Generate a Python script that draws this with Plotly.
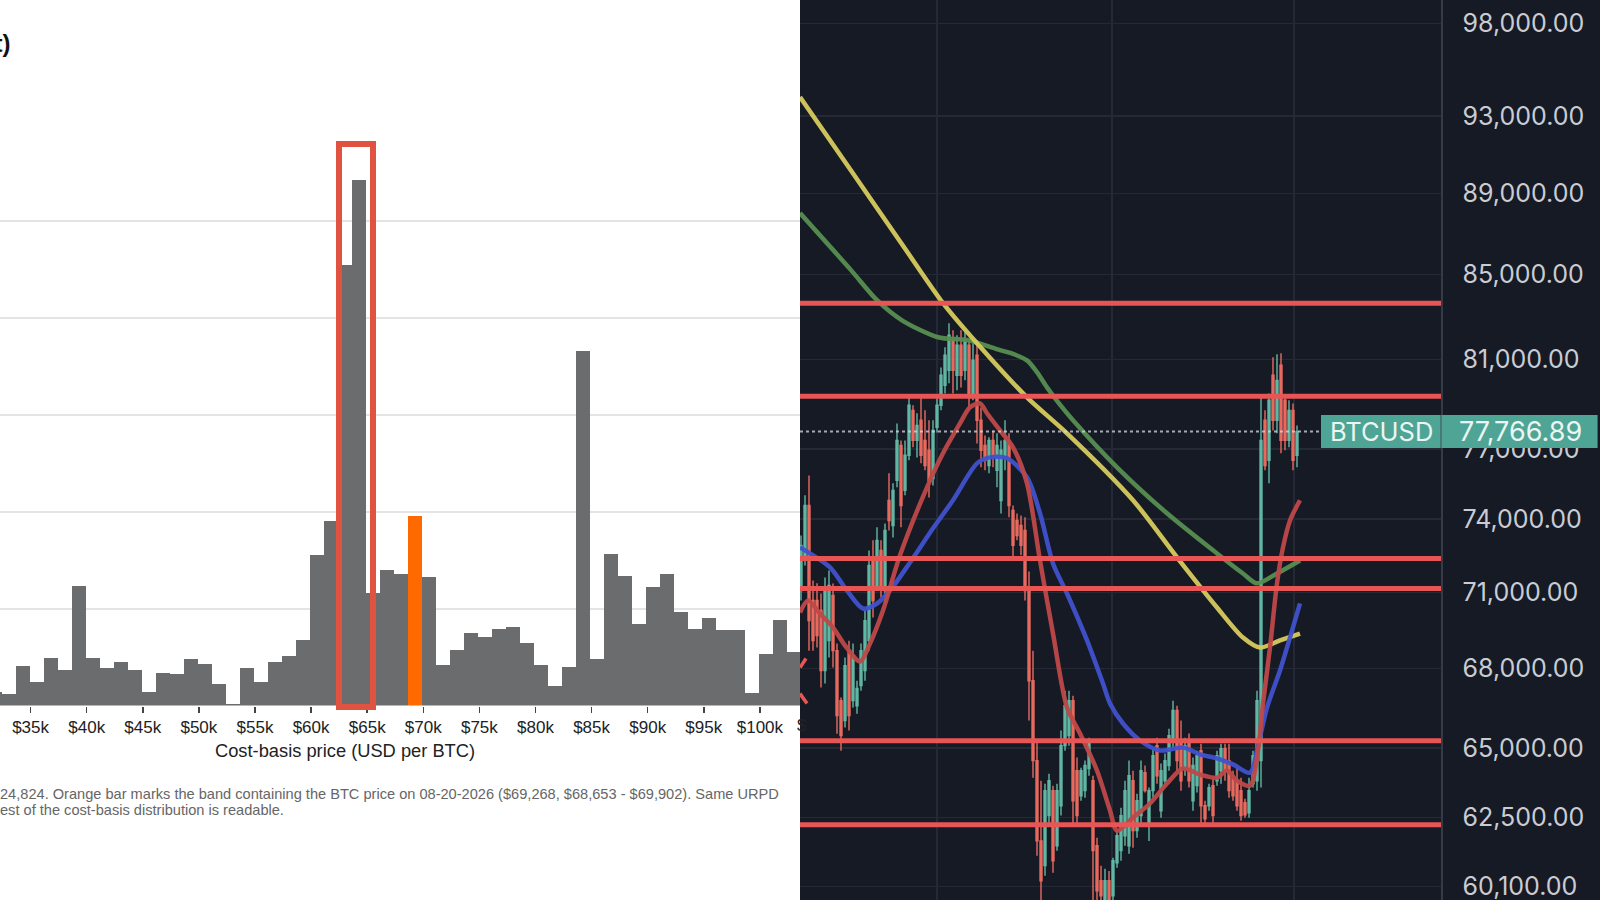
import math
import plotly.graph_objects as go

# ---------------- Left panel: URPD cost-basis histogram ----------------
BIN_START = 31183          # lower edge of first visible band (USD)
BIN_WIDTH = 1249           # band width (USD)
supply_kbtc = [14, 12, 41, 24, 49, 37, 123, 49, 39, 45, 37, 14, 33, 32, 48, 43, 22, 2,
               39, 24, 45, 51, 68, 155, 190, 454, 542, 116, 140, 136, 195, 132, 42, 57,
               75, 71, 79, 81, 64, 42, 20, 40, 365, 48, 156, 133, 84, 122, 136, 96, 79,
               90, 78, 78, 13, 53, 88, 55]
current_band_low = 68653
highlight_band = [62487, 65517]
x_tick_vals = [35000, 40000, 45000, 50000, 55000, 60000, 65000, 70000, 75000, 80000,
               85000, 90000, 95000, 100000]
x_tick_text = ["$35k", "$40k", "$45k", "$50k", "$55k", "$60k", "$65k", "$70k", "$75k",
               "$80k", "$85k", "$90k", "$95k", "$100k"]
caption_1 = ("24,824. Orange bar marks the band containing the BTC price on 08-20-2026 "
             "($69,268, $68,653 - $69,902). Same URPD")
caption_2 = "est of the cost-basis distribution is readable."

# ---------------- Right panel: BTCUSD candles ----------------
opens = [71070, 72500, 74580, 70670, 70670, 70270, 67920, 69080, 70870, 68690,
         66770, 66020, 68690, 66770, 66580, 67340, 67920, 69080, 72290, 71270,
         72700, 71070, 74790, 73740, 75650, 77160, 75220, 76730, 78710, 77380,
         78270, 77380, 76950, 75730, 77960, 78940, 79840, 80520, 81900, 80290,
         81670, 80520, 81670, 79380, 81210, 78270, 77160, 76290, 77380, 76080,
         74790, 76730, 77380, 74370, 73950, 73740, 73530, 71070, 67530, 64540,
         61670, 60810, 62560, 63450, 61500, 62910, 65090, 65460, 66770, 64170,
         63270, 63450, 64250, 63810, 61500, 60290, 59440, 60290, 59780, 60910,
         61330, 61850, 61500, 63810, 62030, 62560, 64100, 62200, 63450, 65090,
         62730, 63810, 64360, 65270, 66400, 65270, 64250, 65270, 63090, 63630,
         64900, 62910, 62910, 63630, 63810, 64170, 64980, 64540, 63880, 63810,
         63450, 63020, 62660, 63700, 63810, 64540, 78270, 76510, 80290, 78270,
         80750, 79160, 77380, 78710, 76730]
highs = [73320, 75010, 75860, 71480, 71360, 70950, 71600, 71880, 71350, 68970,
         66890, 68420, 69080, 68970, 67530, 68970, 70270, 72700, 73120, 73660,
         73120, 73820, 75950, 75520, 78130, 77380, 77380, 79290, 78940, 78580,
         79290, 78710, 78270, 78270, 79250, 80650, 81570, 82690, 82370, 82130,
         82370, 82270, 81900, 81760, 81900, 78840, 77600, 77520, 77820, 77690,
         77380, 78270, 77690, 74580, 74240, 74160, 74080, 71840, 68690, 65270,
         63810, 63700, 64060, 63630, 63700, 65650, 67150, 67150, 66960, 64650,
         64280, 64540, 65380, 63990, 61780, 60810, 60700, 60630, 61080, 62030,
         62840, 63810, 64540, 64170, 63340, 64540, 64360, 63560, 64980, 65380,
         64430, 64800, 65720, 66770, 66580, 66020, 65380, 65540, 64650, 64900,
         65160, 63090, 63700, 63920, 64900, 65160, 65160, 65160, 64170, 64280,
         63920, 63160, 63920, 64900, 67150, 79290, 78710, 79470, 81110, 81250,
         81300, 79290, 79160, 79020, 78040]
lows = [70670, 72090, 68690, 68690, 68810, 67270, 67420, 68420, 68040, 65530,
        64900, 65760, 65650, 66510, 66280, 67150, 67530, 68690, 69990, 71070,
        70790, 70550, 73530, 73240, 75350, 73660, 75010, 76510, 77080, 76640,
        76380, 76080, 74920, 75430, 77730, 78710, 79470, 79930, 79470, 79610,
        79740, 80060, 78710, 79160, 77250, 76210, 76080, 75950, 76210, 75350,
        74240, 76080, 74080, 72410, 73120, 72500, 70670, 66020, 63920, 61150,
        59110, 60460, 62270, 60570, 61330, 62560, 64900, 65090, 62270, 62270,
        63090, 63200, 63990, 59610, 59110, 58610, 58440, 58770, 59270, 60740,
        60980, 61500, 61220, 61430, 61780, 62270, 63380, 61670, 63200, 63700,
        62480, 63630, 64170, 65020, 64170, 63450, 63990, 63560, 62730, 63380,
        62270, 62270, 62730, 62270, 63630, 63700, 63810, 63200, 63090, 62730,
        62380, 62480, 62480, 63560, 63450, 63560, 76080, 75520, 77820, 77690,
        76820, 76950, 77080, 76080, 76210]
closes = [72910, 74580, 69870, 69080, 69280, 67920, 71070, 71270, 68690, 66210,
          65460, 68110, 66210, 68500, 67230, 68690, 69870, 72090, 70670, 73120,
          71270, 73530, 73950, 75220, 77380, 74580, 76730, 78940, 77380, 78040,
          76730, 76290, 75650, 77820, 78940, 80290, 81210, 82130, 80520, 81670,
          80290, 81900, 79380, 80980, 78270, 76950, 76510, 77380, 76730, 77160,
          76950, 77380, 74580, 72910, 73320, 72910, 71070, 67530, 64540, 61670,
          60290, 63450, 63810, 60980, 63450, 65090, 66580, 66770, 63090, 62560,
          64170, 64360, 65200, 61330, 59950, 59780, 60290, 59610, 60980, 61850,
          62560, 63450, 63990, 62030, 63090, 64170, 63450, 63450, 64720, 63990,
          64170, 64540, 65460, 66400, 64540, 63810, 65090, 63810, 64360, 64720,
          62910, 62450, 63560, 62560, 64720, 64980, 64170, 63450, 63270, 62910,
          62560, 62590, 63450, 64720, 66770, 77380, 76290, 79160, 78270, 80060,
          77380, 77380, 78710, 76510, 77766.89]

# moving averages as drawn on the chart (bar position, price)
ma_yellow_x = [-0.25, 12.5, 25.25, 35.5, 44, 56.5, 66.5, 83, 94, 104, 110.5, 114.75, 119.75, 124.75]
ma_yellow_y = [94000, 90170, 86480, 83640, 81760, 79290, 77690, 74800, 72420, 70390, 69200, 68810, 69090, 69360]
ma_green_x = [-0.25, 12.5, 19, 25.25, 34.25, 41.75, 49.75, 52.5, 56.5, 59, 61.5, 64.5, 68, 79, 91.5,
              104, 110.5, 114, 119, 124.75]
ma_green_y = [88020, 85220, 83780, 82830, 82040, 81900, 81440, 81300, 80970, 80430, 79740, 79020,
              78270, 76210, 74250, 72580, 71760, 71360, 71760, 72290]
ma_red_x = [-0.25, 1.75, 4.75, 8, 11, 14.75, 17.25, 20.5, 24.75, 31.5, 35.5, 39.75, 42.25, 44.75,
            46.5, 49.75, 53, 56.5, 59.75, 63, 66.5, 69.75, 74, 77.25, 79, 83, 87.25, 91.5, 95.5,
            99.75, 104, 106.5, 109, 112.25, 114.25, 115.5, 117.25, 119, 120.5, 122.25, 124.75]
ma_red_y = [70190, 70670, 70150, 69600, 68890, 68270, 68970, 70270, 72500, 75350, 76820, 78130,
            78850, 79020, 78580, 77820, 77080, 75520, 72290, 69360, 66510, 65540, 64180, 62740,
            62030, 62490, 62990, 63710, 64250, 64030, 63920, 64180, 63810, 63630, 64910, 66660,
            68810, 71360, 72830, 73950, 74800]
ma_blue_x = [-0.25, 7.25, 11.5, 15.5, 19, 22.25, 27.25, 33, 38, 44, 47.25, 51.5, 56.5, 59.75, 63,
             66.5, 71.5, 75.5, 77.25, 80.5, 84.75, 89.75, 95.5, 99.75, 104, 108, 112.25, 114.25,
             116.5, 119.75, 122.25, 124.75]
ma_blue_y = [72830, 72010, 71070, 70350, 70550, 71070, 72210, 73620, 74800, 76380, 76640, 76600,
             75780, 74250, 72170, 70950, 69090, 67420, 66660, 65910, 65280, 64910, 65020, 64770,
             64620, 64400, 64100, 65090, 66510, 67920, 69200, 70550]

level_lines = [83640, 79340, 72370, 71150, 65270, 62240]
stub_a_x, stub_a_y = [-0.25, 1.25], [68035, 68383]
stub_b_x, stub_b_y = [-0.25, 1.5], [67038, 66660]
price_ticks = [98000, 93000, 89000, 85000, 81000, 77000, 74000, 71000, 68000, 65000, 62500, 60100]
vgrid_bars = [34, 77.75, 123.25]
last_price = 77766.89
symbol = "BTCUSD"

# ---------------- styling ----------------
W, H = 1600, 900
DARK = "#161a25"
GRID_D = "#252935"
TEAL = "#62b8a5"
SALMON = "#e96b5f"
LEVEL = "#e85555"
BAR_GRAY = "#6b6c6e"
ORANGE = "#ff6a00"
BOX_RED = "#df5340"
LEFT_FONT = "Liberation Sans, Arial, sans-serif"
RIGHT_FONT = "Inter, Roboto, sans-serif"

X1_RANGE = [32273, 103574]
X2_RANGE = [-0.25, 160]
Y2_RANGE = [math.log10(59638), math.log10(99316)]
Y1_DOMAIN = [1 - 705.5 / H, 1 - 140 / H]
Y1_RANGE = [0, 583]

fig = go.Figure()

# histogram bars
bin_lows = [BIN_START + k * BIN_WIDTH for k in range(len(supply_kbtc))]
bin_mid = [b + BIN_WIDTH / 2 for b in bin_lows]
bar_colors = [ORANGE if b == current_band_low else BAR_GRAY for b in bin_lows]
fig.add_trace(go.Bar(x=bin_mid, y=supply_kbtc, width=BIN_WIDTH,
                     marker=dict(color=bar_colors, line=dict(width=0)),
                     xaxis="x", yaxis="y", hoverinfo="skip"))

# candles
bar_idx = list(range(len(closes)))
fig.add_trace(go.Candlestick(
    x=bar_idx, open=opens, high=highs, low=lows, close=closes,
    xaxis="x2", yaxis="y2", whiskerwidth=0,
    increasing=dict(line=dict(color=TEAL, width=1.4), fillcolor=TEAL),
    decreasing=dict(line=dict(color=SALMON, width=1.4), fillcolor=SALMON),
    hoverinfo="skip"))

# moving averages
for xs, ys, col in [(ma_green_x, ma_green_y, "rgba(86,142,80,0.95)"),
                    (ma_yellow_x, ma_yellow_y, "rgba(214,203,92,0.95)"),
                    (ma_blue_x, ma_blue_y, "rgba(64,82,205,0.95)"),
                    (ma_red_x, ma_red_y, "rgba(190,72,72,0.95)")]:
    fig.add_trace(go.Scatter(x=xs, y=ys, mode="lines", xaxis="x2", yaxis="y2",
                             line=dict(color=col, width=4.5, shape="spline", smoothing=0.8),
                             hoverinfo="skip"))

# horizontal levels
for lv in level_lines:
    fig.add_trace(go.Scatter(x=X2_RANGE, y=[lv, lv], mode="lines", xaxis="x2", yaxis="y2",
                             line=dict(color=LEVEL, width=5), hoverinfo="skip"))
for xs, ys in [(stub_a_x, stub_a_y), (stub_b_x, stub_b_y)]:
    fig.add_trace(go.Scatter(x=xs, y=ys, mode="lines", xaxis="x2", yaxis="y2",
                             line=dict(color=LEVEL, width=3.5), hoverinfo="skip"))

# last price dotted line
fig.add_trace(go.Scatter(x=X2_RANGE, y=[last_price, last_price], mode="lines",
                         xaxis="x2", yaxis="y2",
                         line=dict(color="rgba(215,218,225,0.75)", width=2, dash="dot"),
                         hoverinfo="skip"))


def x1_paper(v):
    return (v - X1_RANGE[0]) / (X1_RANGE[1] - X1_RANGE[0]) * 0.5


def y2_paper(p):
    return (math.log10(p) - Y2_RANGE[0]) / (Y2_RANGE[1] - Y2_RANGE[0])


label_mid = y2_paper(last_price)
label_half = 16.5 / H

shapes = [
    dict(type="rect", xref="paper", yref="paper", x0=0.5, x1=1, y0=0, y1=1,
         fillcolor=DARK, line=dict(width=0), layer="below"),
    dict(type="rect", xref="paper", yref="paper",
         x0=x1_paper(highlight_band[0]), x1=x1_paper(highlight_band[1]),
         y0=1 - 707 / H, y1=1 - 144 / H,
         line=dict(color=BOX_RED, width=6), fillcolor="rgba(0,0,0,0)", layer="above"),
    dict(type="rect", xref="paper", yref="paper", x0=1321 / W, x1=0.9985,
         y0=label_mid - label_half, y1=label_mid + label_half,
         fillcolor="#4ea595", line=dict(width=0), layer="above"),
    dict(type="line", xref="paper", yref="paper", x0=1441 / W, x1=1441 / W,
         y0=label_mid - label_half, y1=label_mid + label_half,
         line=dict(color="rgba(60,70,80,0.6)", width=1.5), layer="above"),
]

annotations = [
    dict(text="<b>Supply distribution by cost basis (BTC at cost)</b>", xref="paper", yref="paper",
         x=12 / W, y=1 - 43 / H, xanchor="right", yanchor="middle", showarrow=False,
         font=dict(family=LEFT_FONT, size=24, color="#111")),
    dict(text="Cost-basis price (USD per BTC)", xref="paper", yref="paper",
         x=345 / W, y=1 - 750 / H, xanchor="center", yanchor="middle", showarrow=False,
         font=dict(family=LEFT_FONT, size=18.3, color="#222")),
    dict(text=caption_1, xref="paper", yref="paper", x=-2 / W, y=1 - 794 / H,
         xanchor="left", yanchor="middle", showarrow=False,
         font=dict(family=LEFT_FONT, size=14.6, color="#666")),
    dict(text=caption_2, xref="paper", yref="paper", x=-2 / W, y=1 - 810 / H,
         xanchor="left", yanchor="middle", showarrow=False,
         font=dict(family=LEFT_FONT, size=14.6, color="#666")),
    dict(text="$", xref="paper", yref="paper", x=795 / W, y=1 - 725 / H,
         xanchor="left", yanchor="middle", showarrow=False,
         font=dict(family=LEFT_FONT, size=17, color="#222")),
    dict(text=symbol, xref="paper", yref="paper", x=1381 / W, y=label_mid,
         xanchor="center", yanchor="middle", showarrow=False,
         font=dict(family=RIGHT_FONT, size=25.5, color="#eaf6f3")),
    dict(text=f"{last_price:,.2f}", xref="paper", yref="paper", x=1520 / W, y=label_mid,
         xanchor="center", yanchor="middle", showarrow=False,
         font=dict(family=RIGHT_FONT, size=27, color="#eaf6f3")),
]

fig.update_layout(
    width=W, height=H, margin=dict(l=0, r=0, t=0, b=0),
    paper_bgcolor="white", plot_bgcolor="rgba(0,0,0,0)",
    showlegend=False, bargap=0, hovermode=False,
    xaxis=dict(domain=[0, 0.5], range=X1_RANGE, anchor="y",
               tickvals=x_tick_vals, ticktext=x_tick_text,
               ticks="outside", ticklen=6, tickcolor="#444", tickwidth=1.5,
               showgrid=False, zeroline=False, showline=False,
               tickfont=dict(family=LEFT_FONT, size=17, color="#222")),
    yaxis=dict(domain=Y1_DOMAIN, range=Y1_RANGE, anchor="x",
               tickvals=[100, 200, 300, 400, 500], showticklabels=False, ticks="",
               gridcolor="#e4e4e4", gridwidth=2, zeroline=False, showline=False),
    xaxis2=dict(domain=[0.5, 1441 / W], range=X2_RANGE, anchor="y2",
                tickvals=vgrid_bars, showticklabels=False, ticks="",
                gridcolor=GRID_D, gridwidth=1.5, zeroline=False, showline=False,
                rangeslider=dict(visible=False)),
    yaxis2=dict(domain=[0, 1], type="log", range=Y2_RANGE, anchor="x2", side="right",
                tickvals=price_ticks, ticktext=[f"{v:,.2f}" for v in price_ticks],
                tickfont=dict(family=RIGHT_FONT, size=25, color="#c9ccd3"),
                ticks="", ticklabelstandoff=15, ticklabeloverflow="allow",
                gridcolor=GRID_D, gridwidth=1.5, zeroline=False,
                showline=True, linecolor="#363a46", linewidth=1.5),
    shapes=shapes, annotations=annotations,
)

fig.write_html("out.html", config={"displayModeBar": False, "staticPlot": True},
               post_script="document.body.style.margin='0';document.body.style.overflow='hidden';")
